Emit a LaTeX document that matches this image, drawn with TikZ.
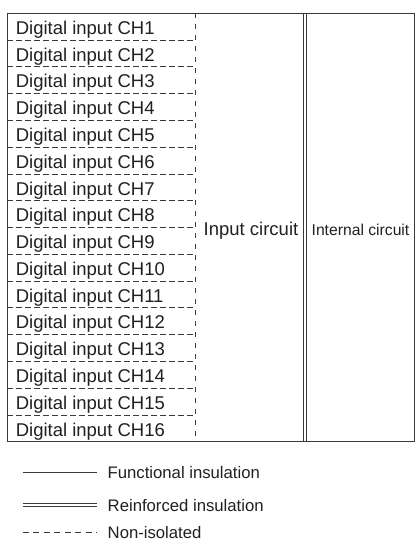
\documentclass[tikz,border=0pt]{standalone}
\usepackage{fontspec}
\setmainfont{Liberation Sans}
\definecolor{txt}{HTML}{231F20}
\definecolor{ln}{HTML}{3A3A3A}
\begin{document}
\begin{tikzpicture}[x=1pt,y=-1pt,
  frame/.style={draw=ln, line width=0.9pt},
  dsh/.style={draw=ln, line width=0.8pt, dash pattern=on 5.5pt off 3.5pt},
  vdsh/.style={draw=ln, line width=0.8pt, dash pattern=on 5pt off 6pt},
  dbl/.style={draw=ln, line width=0.9pt, double, double distance=2.2pt},
  legdsh/.style={draw=ln, line width=0.8pt, dash pattern=on 6pt off 4.5pt},
  rowtxt/.style={anchor=base west, inner sep=0pt, text=txt, font=\fontsize{18.5}{20}\selectfont},
  bigtxt/.style={anchor=base, inner sep=0pt, text=txt, font=\fontsize{18.5}{20}\selectfont},
  midtxt/.style={anchor=base, inner sep=0pt, text=txt, font=\fontsize{15.7}{18}\selectfont},
  legtxt/.style={anchor=base west, inner sep=0pt, text=txt, font=\fontsize{16.7}{19}\selectfont}]
\useasboundingbox (0,0) rectangle (415,543);
% table frame
\coordinate (tl) at (7.3,13.3);
\coordinate (br) at (414,441.7);
\coordinate (dt) at (195,13.3);
\coordinate (db) at (195,441.7);
\coordinate (wt) at (305.3,13.3);
\coordinate (wb) at (305.3,441.7);
\foreach \k in {1,...,15} {
  \coordinate (sl\k) at (7.3,{13.3+\k*26.78});
  \coordinate (sr\k) at (195,{13.3+\k*26.78});
  \draw[dsh] (sl\k) -- (sr\k);
}
\draw[vdsh] (dt) -- (db);
\draw[dbl] (wt) -- (wb);
\draw[frame] (tl) rectangle (br);
\foreach \k in {1,...,16} {
  \node[rowtxt] (ch\k) at (15.6,{13.3+\k*26.78-5.7}) {Digital input CH\k};
}
\node[bigtxt] (inp) at (251,235.6) {Input circuit};
\node[midtxt] (int) at (360.5,235.2) {Internal circuit};
% legend
\coordinate (a1) at (22.7,472); \coordinate (b1) at (96.7,472);
\coordinate (a2) at (22.7,505); \coordinate (b2) at (96.7,505);
\coordinate (a3) at (22.7,532); \coordinate (b3) at (96.7,532);
\draw[frame] (a1) -- (b1);
\draw[dbl] (a2) -- (b2);
\draw[legdsh] (a3) -- (b3);
\node[legtxt] (l1) at (107.5,478) {Functional insulation};
\node[legtxt] (l2) at (107.5,511) {Reinforced insulation};
\node[legtxt] (l3) at (107.5,538) {Non-isolated};
\end{tikzpicture}
\end{document}
